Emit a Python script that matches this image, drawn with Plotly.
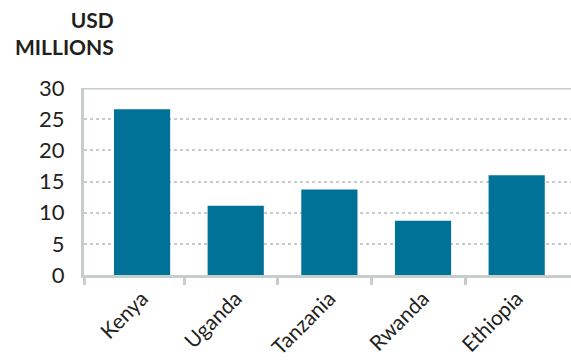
import plotly.graph_objects as go

# Funding by country, USD millions
countries = ["Kenya", "Uganda", "Tanzania", "Rwanda", "Ethiopia"]
funding = [26.6, 11.1, 13.7, 8.7, 16.0]
y_ticks = [0, 5, 10, 15, 20, 25, 30]
unit_label = "USD<br>MILLIONS"

BAR = "#007297"
AXIS = "#c6cecc"
TEXT = "#231f20"
FONT = "Lato"

x_lo, x_hi = -0.62, 4.58

fig = go.Figure()
fig.add_trace(go.Bar(
    x=countries, y=funding, marker_color=BAR, marker_line_width=0,
    width=0.6, hoverinfo="x+y",
))
# invisible trace to hold the boundary-tick axis
fig.add_trace(go.Scatter(x=[x_lo, x_hi], y=[0, 0], xaxis="x2", mode="none",
                         showlegend=False, hoverinfo="skip"))

fig.update_layout(
    width=571, height=362,
    margin=dict(l=84, r=0, t=88, b=87),
    paper_bgcolor="white", plot_bgcolor="white",
    showlegend=False,
    font=dict(family=FONT, color=TEXT),
    xaxis=dict(
        type="category", range=[x_lo, x_hi],
        showline=True, linecolor=AXIS, linewidth=3,
        mirror=False, showgrid=False, ticks="",
        tickangle=-45, tickfont=dict(size=21, color=TEXT, family=FONT),
        fixedrange=True,
    ),
    xaxis2=dict(
        overlaying="x", anchor="y", side="bottom", range=[x_lo, x_hi],
        tickmode="array", tickvals=[x_lo + 0.01, 0.45, 1.45, 2.45, 3.45],
        ticktext=["", "", "", "", ""],
        ticks="outside", ticklen=9, tickwidth=3, tickcolor=AXIS,
        showgrid=False, showline=False, zeroline=False, showticklabels=False,
    ),
    yaxis=dict(
        range=[0, 30], tickmode="array", tickvals=y_ticks,
        showline=True, linecolor=AXIS, linewidth=3,
        showgrid=True, gridcolor=AXIS, gridwidth=2, griddash="dot",
        zeroline=False, ticks="", ticklabelstandoff=12,
        tickfont=dict(size=22, color=TEXT, family=FONT),
        fixedrange=True,
    ),
    shapes=[dict(type="line", xref="paper", yref="y", x0=0, x1=1, y0=30, y1=30,
                 line=dict(color=AXIS, width=3))],
    annotations=[dict(
        text=f"<b>{unit_label}</b>", xref="paper", yref="paper",
        x=(116 - 84) / 487, y=1, xanchor="right", yanchor="bottom",
        align="right", showarrow=False, yshift=27,
        font=dict(size=21, color=TEXT, family=FONT),
    )],
)

fig.write_html("out.html")
